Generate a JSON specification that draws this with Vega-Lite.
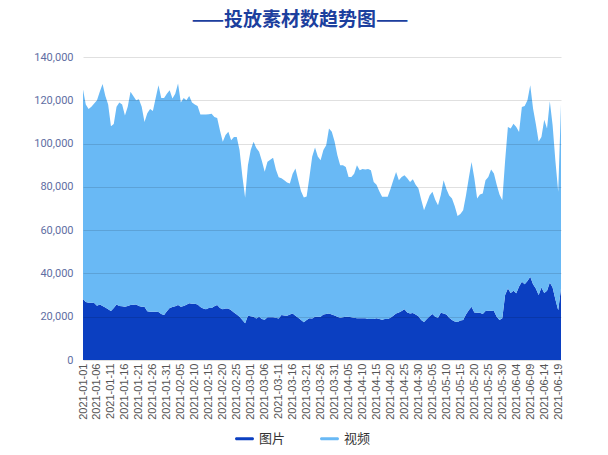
{
  "$schema": "https://vega.github.io/schema/vega-lite/v6.json",
  "width": 478,
  "height": 303,
  "autosize": {"type": "none"},
  "padding": {"left": 83, "top": 57, "right": 47, "bottom": 95},
  "background": "white",
  "title": {
    "text": "——投放素材数趋势图——",
    "font": "Noto Sans CJK SC",
    "fontSize": 19,
    "fontWeight": "bold",
    "color": "#1c3f9e",
    "anchor": "middle",
    "offset": 21,
    "dx": -22
  },
  "config": {"view": {"stroke": null}, "font": "Liberation Sans"},
  "data": {
    "values": [
      {"date": "2021-01-01", "图片": 28200, "视频": 96800},
      {"date": "2021-01-02", "图片": 26800, "视频": 91200},
      {"date": "2021-01-03", "图片": 26500, "视频": 89500},
      {"date": "2021-01-04", "图片": 26500, "视频": 90500},
      {"date": "2021-01-05", "图片": 26300, "视频": 92200},
      {"date": "2021-01-06", "图片": 25100, "视频": 94900},
      {"date": "2021-01-07", "图片": 25700, "视频": 98300},
      {"date": "2021-01-08", "图片": 25000, "视频": 102500},
      {"date": "2021-01-09", "图片": 24300, "视频": 97700},
      {"date": "2021-01-10", "图片": 23500, "视频": 94500},
      {"date": "2021-01-11", "图片": 22600, "视频": 85400},
      {"date": "2021-01-12", "图片": 24000, "视频": 85000},
      {"date": "2021-01-13", "图片": 25700, "视频": 91300},
      {"date": "2021-01-14", "图片": 25000, "视频": 94000},
      {"date": "2021-01-15", "图片": 24800, "视频": 93200},
      {"date": "2021-01-16", "图片": 24600, "视频": 88400},
      {"date": "2021-01-17", "图片": 25000, "视频": 92000},
      {"date": "2021-01-18", "图片": 25400, "视频": 98600},
      {"date": "2021-01-19", "图片": 25500, "视频": 96500},
      {"date": "2021-01-20", "图片": 25700, "视频": 94300},
      {"date": "2021-01-21", "图片": 25000, "视频": 95500},
      {"date": "2021-01-22", "图片": 24600, "视频": 92400},
      {"date": "2021-01-23", "图片": 24600, "视频": 85400},
      {"date": "2021-01-24", "图片": 22500, "视频": 91500},
      {"date": "2021-01-25", "图片": 22300, "视频": 93700},
      {"date": "2021-01-26", "图片": 22300, "视频": 92700},
      {"date": "2021-01-27", "图片": 22300, "视频": 98700},
      {"date": "2021-01-28", "图片": 22200, "视频": 104800},
      {"date": "2021-01-29", "图片": 21200, "视频": 99800},
      {"date": "2021-01-30", "图片": 20800, "视频": 100200},
      {"date": "2021-01-31", "图片": 22500, "视频": 100500},
      {"date": "2021-02-01", "图片": 24000, "视频": 100600},
      {"date": "2021-02-02", "图片": 24500, "视频": 96300},
      {"date": "2021-02-03", "图片": 24800, "视频": 98200},
      {"date": "2021-02-04", "图片": 25400, "视频": 102300},
      {"date": "2021-02-05", "图片": 24600, "视频": 94400},
      {"date": "2021-02-06", "图片": 25000, "视频": 96000},
      {"date": "2021-02-07", "图片": 25500, "视频": 94500},
      {"date": "2021-02-08", "图片": 26200, "视频": 95800},
      {"date": "2021-02-09", "图片": 26000, "视频": 93000},
      {"date": "2021-02-10", "图片": 26000, "视频": 92000},
      {"date": "2021-02-11", "图片": 25700, "视频": 91700},
      {"date": "2021-02-12", "图片": 24500, "视频": 88900},
      {"date": "2021-02-13", "图片": 23800, "视频": 89600},
      {"date": "2021-02-14", "图片": 23500, "视频": 89900},
      {"date": "2021-02-15", "图片": 24000, "视频": 89600},
      {"date": "2021-02-16", "图片": 24000, "视频": 89800},
      {"date": "2021-02-17", "图片": 24800, "视频": 87500},
      {"date": "2021-02-18", "图片": 25400, "视频": 86400},
      {"date": "2021-02-19", "图片": 24000, "视频": 82000},
      {"date": "2021-02-20", "图片": 23500, "视频": 77300},
      {"date": "2021-02-21", "图片": 23800, "视频": 80200},
      {"date": "2021-02-22", "图片": 23800, "视频": 81700},
      {"date": "2021-02-23", "图片": 23000, "视频": 78500},
      {"date": "2021-02-24", "图片": 22000, "视频": 81000},
      {"date": "2021-02-25", "图片": 21000, "视频": 82000},
      {"date": "2021-02-26", "图片": 20000, "视频": 77000},
      {"date": "2021-02-27", "图片": 18500, "视频": 66500},
      {"date": "2021-02-28", "图片": 17000, "视频": 58000},
      {"date": "2021-02-29", "图片": 20500, "视频": 69500},
      {"date": "2021-03-01", "图片": 20200, "视频": 76800},
      {"date": "2021-03-02", "图片": 20000, "视频": 80800},
      {"date": "2021-03-03", "图片": 19200, "视频": 78800},
      {"date": "2021-03-04", "图片": 20000, "视频": 76200},
      {"date": "2021-03-05", "图片": 19000, "视频": 73000},
      {"date": "2021-03-06", "图片": 18600, "视频": 68400},
      {"date": "2021-03-07", "图片": 19700, "视频": 71900},
      {"date": "2021-03-08", "图片": 19800, "视频": 72700},
      {"date": "2021-03-09", "图片": 19800, "视频": 73700},
      {"date": "2021-03-10", "图片": 19500, "视频": 68500},
      {"date": "2021-03-11", "图片": 19200, "视频": 65200},
      {"date": "2021-03-12", "图片": 20800, "视频": 63200},
      {"date": "2021-03-13", "图片": 20600, "视频": 62400},
      {"date": "2021-03-14", "图片": 20500, "视频": 61500},
      {"date": "2021-03-15", "图片": 21000, "视频": 60600},
      {"date": "2021-03-16", "图片": 21500, "视频": 64500},
      {"date": "2021-03-17", "图片": 20500, "视频": 68000},
      {"date": "2021-03-18", "图片": 19500, "视频": 63500},
      {"date": "2021-03-19", "图片": 18500, "视频": 59500},
      {"date": "2021-03-20", "图片": 17400, "视频": 57700},
      {"date": "2021-03-21", "图片": 18500, "视频": 57000},
      {"date": "2021-03-22", "图片": 19300, "视频": 65200},
      {"date": "2021-03-23", "图片": 19200, "视频": 74800},
      {"date": "2021-03-24", "图片": 20000, "视频": 78200},
      {"date": "2021-03-25", "图片": 20000, "视频": 74000},
      {"date": "2021-03-26", "图片": 20000, "视频": 72300},
      {"date": "2021-03-27", "图片": 21000, "视频": 76000},
      {"date": "2021-03-28", "图片": 21200, "视频": 78000},
      {"date": "2021-03-29", "图片": 21500, "视频": 85500},
      {"date": "2021-03-30", "图片": 21000, "视频": 84500},
      {"date": "2021-03-31", "图片": 20600, "视频": 80400},
      {"date": "2021-04-01", "图片": 20000, "视频": 74600},
      {"date": "2021-04-02", "图片": 19500, "视频": 70500},
      {"date": "2021-04-03", "图片": 19800, "视频": 70200},
      {"date": "2021-04-04", "图片": 20000, "视频": 69200},
      {"date": "2021-04-05", "图片": 20000, "视频": 64500},
      {"date": "2021-04-06", "图片": 19700, "视频": 64800},
      {"date": "2021-04-07", "图片": 19500, "视频": 66500},
      {"date": "2021-04-08", "图片": 19300, "视频": 70700},
      {"date": "2021-04-09", "图片": 19300, "视频": 68400},
      {"date": "2021-04-10", "图片": 19300, "视频": 69000},
      {"date": "2021-04-11", "图片": 19300, "视频": 68700},
      {"date": "2021-04-12", "图片": 19000, "视频": 69200},
      {"date": "2021-04-13", "图片": 19000, "视频": 68700},
      {"date": "2021-04-14", "图片": 19000, "视频": 63300},
      {"date": "2021-04-15", "图片": 19300, "视频": 61700},
      {"date": "2021-04-16", "图片": 19000, "视频": 59000},
      {"date": "2021-04-17", "图片": 18600, "视频": 56800},
      {"date": "2021-04-18", "图片": 19000, "视频": 56400},
      {"date": "2021-04-19", "图片": 19000, "视频": 56400},
      {"date": "2021-04-20", "图片": 19500, "视频": 59500},
      {"date": "2021-04-21", "图片": 20500, "视频": 62500},
      {"date": "2021-04-22", "图片": 21500, "视频": 65400},
      {"date": "2021-04-23", "图片": 22000, "视频": 61000},
      {"date": "2021-04-24", "图片": 22600, "视频": 62000},
      {"date": "2021-04-25", "图片": 23500, "视频": 61900},
      {"date": "2021-04-26", "图片": 22000, "视频": 62000},
      {"date": "2021-04-27", "图片": 21500, "视频": 60800},
      {"date": "2021-04-28", "图片": 21700, "视频": 61800},
      {"date": "2021-04-29", "图片": 21000, "视频": 60000},
      {"date": "2021-04-30", "图片": 20200, "视频": 59000},
      {"date": "2021-05-01", "图片": 18500, "视频": 55500},
      {"date": "2021-05-02", "图片": 17600, "视频": 51600},
      {"date": "2021-05-03", "图片": 19000, "视频": 53500},
      {"date": "2021-05-04", "图片": 20200, "视频": 55800},
      {"date": "2021-05-05", "图片": 21200, "视频": 56500},
      {"date": "2021-05-06", "图片": 20000, "视频": 54000},
      {"date": "2021-05-07", "图片": 19500, "视频": 52000},
      {"date": "2021-05-08", "图片": 21800, "视频": 54400},
      {"date": "2021-05-09", "图片": 21500, "视频": 61500},
      {"date": "2021-05-10", "图片": 21000, "视频": 58000},
      {"date": "2021-05-11", "图片": 19500, "视频": 56500},
      {"date": "2021-05-12", "图片": 18500, "视频": 56100},
      {"date": "2021-05-13", "图片": 17800, "视频": 53200},
      {"date": "2021-05-14", "图片": 17600, "视频": 48900},
      {"date": "2021-05-15", "图片": 18300, "视频": 49200},
      {"date": "2021-05-16", "图片": 18500, "视频": 50700},
      {"date": "2021-05-17", "图片": 21000, "视频": 55000},
      {"date": "2021-05-18", "图片": 23000, "视频": 61000},
      {"date": "2021-05-19", "图片": 24600, "视频": 66900},
      {"date": "2021-05-20", "图片": 22000, "视频": 62000},
      {"date": "2021-05-21", "图片": 21800, "视频": 52800},
      {"date": "2021-05-22", "图片": 21800, "视频": 54700},
      {"date": "2021-05-23", "图片": 21300, "视频": 55600},
      {"date": "2021-05-24", "图片": 22600, "视频": 60400},
      {"date": "2021-05-25", "图片": 22800, "视频": 61800},
      {"date": "2021-05-26", "图片": 22800, "视频": 65200},
      {"date": "2021-05-27", "图片": 22600, "视频": 63600},
      {"date": "2021-05-28", "图片": 20000, "视频": 61000},
      {"date": "2021-05-29", "图片": 18500, "视频": 58000},
      {"date": "2021-05-30", "图片": 19300, "视频": 54500},
      {"date": "2021-05-31", "图片": 30000, "视频": 62000},
      {"date": "2021-06-01", "图片": 33000, "视频": 74700},
      {"date": "2021-06-02", "图片": 31000, "视频": 76000},
      {"date": "2021-06-03", "图片": 32000, "视频": 77200},
      {"date": "2021-06-04", "图片": 30800, "视频": 76900},
      {"date": "2021-06-05", "图片": 34000, "视频": 71400},
      {"date": "2021-06-06", "图片": 36200, "视频": 80700},
      {"date": "2021-06-07", "图片": 35000, "视频": 82400},
      {"date": "2021-06-08", "图片": 36500, "视频": 83500},
      {"date": "2021-06-09", "图片": 38500, "视频": 88400},
      {"date": "2021-06-10", "图片": 35000, "视频": 81200},
      {"date": "2021-06-11", "图片": 33000, "视频": 76000},
      {"date": "2021-06-12", "图片": 30000, "视频": 71000},
      {"date": "2021-06-13", "图片": 33500, "视频": 69500},
      {"date": "2021-06-14", "图片": 31000, "视频": 80000},
      {"date": "2021-06-15", "图片": 32000, "视频": 75000},
      {"date": "2021-06-16", "图片": 35800, "视频": 83700},
      {"date": "2021-06-17", "图片": 33500, "视频": 75000},
      {"date": "2021-06-18", "图片": 28000, "视频": 64000},
      {"date": "2021-06-19", "图片": 23000, "视频": 54700},
      {"date": "2021-06-20", "图片": 33000, "视频": 85000}
    ]
  },
  "transform": [{"fold": ["图片", "视频"], "as": ["type", "value"]}],
  "mark": {"type": "area", "interpolate": "linear"},
  "encoding": {
    "x": {
      "field": "date",
      "type": "ordinal",
      "sort": null,
      "scale": {"type": "point", "padding": 0},
      "axis": {
        "title": null,
        "values": ["2021-01-01", "2021-01-06", "2021-01-11", "2021-01-16", "2021-01-21", "2021-01-26", "2021-01-31", "2021-02-05", "2021-02-10", "2021-02-15", "2021-02-20", "2021-02-25", "2021-03-01", "2021-03-06", "2021-03-11", "2021-03-16", "2021-03-21", "2021-03-26", "2021-03-31", "2021-04-05", "2021-04-10", "2021-04-15", "2021-04-20", "2021-04-25", "2021-04-30", "2021-05-05", "2021-05-10", "2021-05-15", "2021-05-20", "2021-05-25", "2021-05-30", "2021-06-04", "2021-06-09", "2021-06-14", "2021-06-19"],
        "labelAngle": -90,
        "labelFontSize": 11,
        "labelColor": "#555555",
        "labelFont": "Liberation Sans",
        "labelPadding": 3,
        "ticks": false,
        "domain": false
      }
    },
    "y": {
      "field": "value",
      "type": "quantitative",
      "stack": "zero",
      "scale": {"domain": [0, 140000], "nice": false},
      "axis": {
        "title": null,
        "values": [0, 20000, 40000, 60000, 80000, 100000, 120000, 140000],
        "format": ",d",
        "labelColor": "#5f6ea3",
        "labelFontSize": 11,
        "labelFont": "Roboto",
        "labelPadding": 10,
        "ticks": false,
        "domain": false,
        "gridColor": "#000000",
        "gridOpacity": 0.12,
        "zindex": 1
      }
    },
    "color": {
      "field": "type",
      "type": "nominal",
      "scale": {"domain": ["图片", "视频"], "range": ["#0b3fc1", "#69b9f5"]},
      "legend": {
        "title": null,
        "orient": "none",
        "direction": "horizontal",
        "legendX": 152,
        "legendY": 372,
        "padding": 0,
        "symbolType": "M-0.84,-0.16L0.84,-0.16A0.16,0.16 0 0 1 0.84,0.16L-0.84,0.16A0.16,0.16 0 0 1 -0.84,-0.16Z",
        "symbolSize": 361,
        "symbolStrokeWidth": 0,
        "symbolOpacity": 1,
        "labelFont": "Noto Sans CJK SC",
        "labelFontSize": 13,
        "labelColor": "#333333",
        "labelOffset": 5,
        "columnPadding": 34
      }
    },
    "order": {"field": "type", "sort": "ascending"}
  }
}
